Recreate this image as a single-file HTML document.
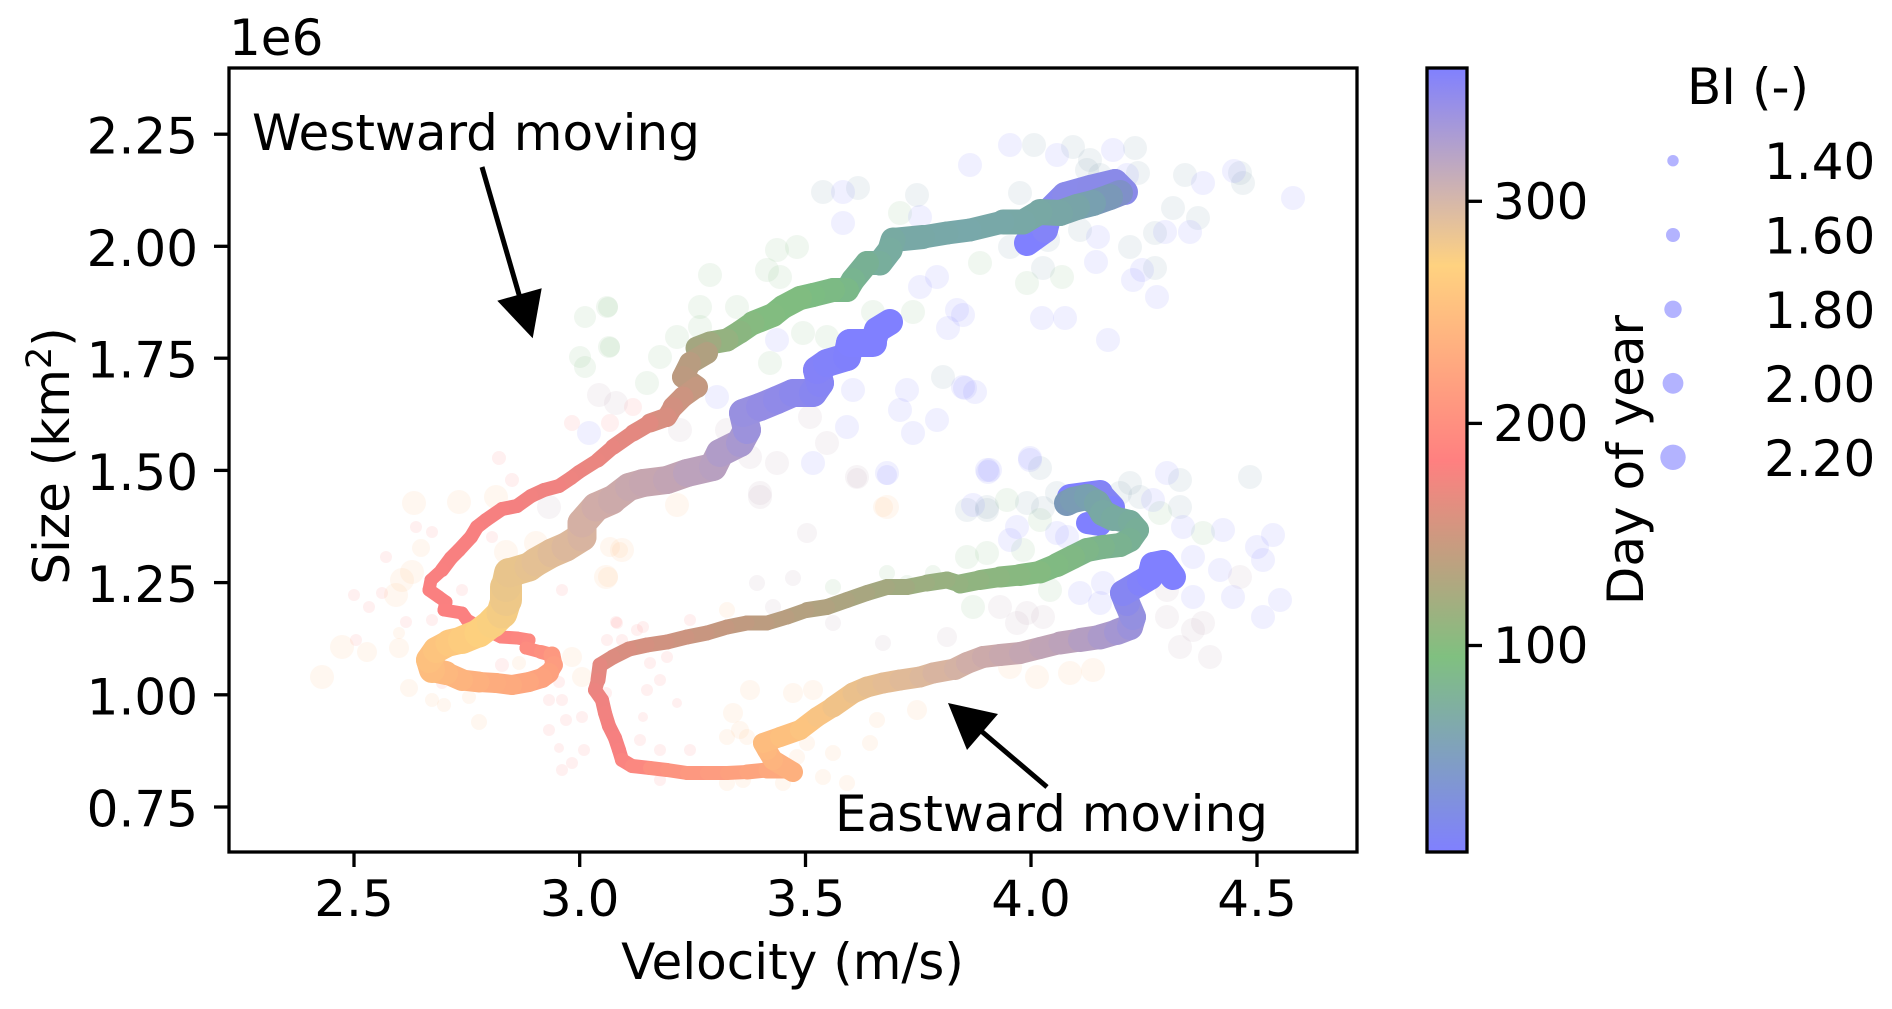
<!DOCTYPE html>
<html><head><meta charset="utf-8"><style>
html,body{margin:0;padding:0;background:#fff;}
svg{display:block;}
text{font-family:"DejaVu Sans","Liberation Sans",sans-serif;font-size:50px;fill:#000;}
line.s{stroke-linecap:round;}
.b{fill:#8080ff;fill-opacity:.12}
.t{fill:#78a0b0;fill-opacity:.12}
.g{fill:#80c080;fill-opacity:.12}
.p{fill:#ff8080;fill-opacity:.12}
.c{fill:#ffc080;fill-opacity:.12}
.m{fill:#c0a8b8;fill-opacity:.13}
</style></head><body>
<svg width="1892" height="1009" viewBox="0 0 1892 1009" xmlns="http://www.w3.org/2000/svg">
<defs>
<linearGradient id="cb" x1="0" y1="1" x2="0" y2="0">
<stop offset="0" stop-color="#8080ff"/>
<stop offset="0.249" stop-color="#80c080"/>
<stop offset="0.499" stop-color="#ff8080"/>
<stop offset="0.748" stop-color="#ffd280"/>
<stop offset="1" stop-color="#8080ff"/>
</linearGradient>
<clipPath id="ax"><rect x="229" y="68" width="1128" height="784"/></clipPath>
</defs>
<rect width="1892" height="1009" fill="#fff"/>

<g clip-path="url(#ax)">
<g>
<circle class="b" cx="1010" cy="145" r="12"/><circle class="t" cx="1034" cy="145" r="12"/><circle class="b" cx="1057" cy="155" r="12"/><circle class="t" cx="1073" cy="147" r="12"/><circle class="t" cx="1090" cy="160" r="12"/><circle class="b" cx="1113" cy="150" r="12"/><circle class="t" cx="1135" cy="148" r="12"/><circle class="b" cx="1127" cy="175" r="12"/><circle class="t" cx="1100" cy="175" r="12"/><circle class="t" cx="1087" cy="170" r="12"/><circle class="t" cx="1078" cy="195" r="12"/><circle class="t" cx="1138" cy="173" r="12"/><circle class="t" cx="1185" cy="175" r="12"/><circle class="b" cx="1203" cy="183" r="12"/><circle class="t" cx="1240" cy="173" r="12"/><circle class="t" cx="1243" cy="183" r="12"/><circle class="b" cx="1293" cy="198" r="12"/><circle class="t" cx="1173" cy="208" r="12"/><circle class="b" cx="1165" cy="232" r="12"/><circle class="t" cx="1155" cy="233" r="12"/><circle class="t" cx="1130" cy="247" r="12"/><circle class="b" cx="1098" cy="237" r="12"/><circle class="t" cx="1080" cy="230" r="12"/><circle class="t" cx="1048" cy="240" r="12"/><circle class="t" cx="1010" cy="247" r="12"/><circle class="g" cx="980" cy="263" r="12"/><circle class="t" cx="1043" cy="268" r="12"/><circle class="g" cx="1062" cy="277" r="12"/><circle class="b" cx="1096" cy="262" r="12"/><circle class="b" cx="1133" cy="280" r="12"/><circle class="b" cx="1142" cy="270" r="12"/><circle class="t" cx="1155" cy="268" r="12"/><circle class="b" cx="1157" cy="297" r="12"/><circle class="g" cx="1027" cy="283" r="12"/><circle class="b" cx="1065" cy="318" r="12"/><circle class="b" cx="1108" cy="340" r="12"/><circle class="b" cx="963" cy="315" r="12"/><circle class="b" cx="975" cy="392" r="12"/><circle class="t" cx="1198" cy="218" r="12"/><circle class="b" cx="1190" cy="232" r="12"/><circle class="t" cx="1020" cy="193" r="12"/><circle class="b" cx="970" cy="165" r="12"/><circle class="b" cx="1042" cy="318" r="12"/><circle class="b" cx="965" cy="388" r="12"/><circle class="b" cx="1234" cy="171" r="12"/>
<circle class="t" cx="823" cy="192" r="12"/><circle class="b" cx="843" cy="192" r="12"/><circle class="t" cx="858" cy="188" r="12"/><circle class="t" cx="917" cy="195" r="12"/><circle class="g" cx="900" cy="213" r="12"/><circle class="b" cx="920" cy="217" r="12"/><circle class="b" cx="843" cy="223" r="12"/><circle class="g" cx="797" cy="247" r="12"/><circle class="g" cx="777" cy="250" r="12"/><circle class="g" cx="767" cy="270" r="12"/><circle class="g" cx="780" cy="277" r="12"/><circle class="g" cx="710" cy="275" r="12"/><circle class="g" cx="700" cy="307" r="12"/><circle class="g" cx="608" cy="307" r="10"/><circle class="g" cx="610" cy="347" r="10"/><circle class="g" cx="677" cy="337" r="12"/><circle class="g" cx="700" cy="327" r="12"/><circle class="g" cx="737" cy="307" r="12"/><circle class="b" cx="937" cy="277" r="12"/><circle class="b" cx="920" cy="287" r="12"/><circle class="g" cx="913" cy="312" r="12"/><circle class="b" cx="957" cy="310" r="12"/><circle class="b" cx="948" cy="328" r="12"/><circle class="g" cx="873" cy="312" r="12"/><circle class="g" cx="803" cy="333" r="12"/><circle class="g" cx="827" cy="337" r="12"/><circle class="b" cx="777" cy="340" r="12"/><circle class="g" cx="770" cy="363" r="12"/><circle class="g" cx="660" cy="357" r="12"/><circle class="g" cx="647" cy="383" r="12"/><circle class="t" cx="943" cy="377" r="12"/><circle class="b" cx="963" cy="387" r="12"/><circle class="b" cx="907" cy="390" r="12"/><circle class="b" cx="900" cy="410" r="12"/><circle class="b" cx="937" cy="420" r="12"/><circle class="b" cx="913" cy="433" r="12"/><circle class="b" cx="847" cy="427" r="12"/><circle class="m" cx="810" cy="417" r="12"/><circle class="m" cx="827" cy="443" r="12"/><circle class="b" cx="853" cy="390" r="12"/><circle class="b" cx="887" cy="473" r="12"/><circle class="m" cx="857" cy="477" r="12"/><circle class="b" cx="987" cy="470" r="12"/><circle class="t" cx="967" cy="510" r="12"/><circle class="t" cx="987" cy="510" r="12"/><circle class="c" cx="887" cy="507" r="12"/><circle class="m" cx="760" cy="493" r="12"/><circle class="m" cx="777" cy="463" r="12"/><circle class="m" cx="750" cy="457" r="12"/><circle class="b" cx="813" cy="463" r="12"/><circle class="m" cx="727" cy="430" r="12"/><circle class="b" cx="717" cy="397" r="12"/><circle class="m" cx="680" cy="430" r="12"/><circle class="p" cx="633" cy="407" r="9"/><circle class="p" cx="610" cy="423" r="9"/><circle class="g" cx="585" cy="317" r="11"/><circle class="g" cx="607" cy="307" r="11"/><circle class="g" cx="609" cy="347" r="11"/><circle class="g" cx="580" cy="357" r="11"/><circle class="g" cx="585" cy="367" r="11"/>
<circle class="m" cx="599" cy="395" r="12"/><circle class="m" cx="616" cy="403" r="12"/><circle class="p" cx="572" cy="423" r="8"/><circle class="b" cx="589" cy="433" r="12"/><circle class="p" cx="499" cy="458" r="7"/><circle class="p" cx="512" cy="480" r="7"/><circle class="c" cx="496" cy="497" r="12"/><circle class="c" cx="459" cy="502" r="12"/><circle class="c" cx="414" cy="503" r="12"/><circle class="m" cx="549" cy="507" r="12"/><circle class="p" cx="416" cy="527" r="6"/><circle class="p" cx="432" cy="532" r="6"/><circle class="p" cx="492" cy="537" r="6"/><circle class="c" cx="506" cy="552" r="12"/><circle class="c" cx="536" cy="543" r="12"/><circle class="c" cx="622" cy="550" r="12"/><circle class="p" cx="386" cy="557" r="6"/><circle class="c" cx="421" cy="548" r="9"/><circle class="c" cx="606" cy="577" r="12"/><circle class="c" cx="412" cy="572" r="12"/><circle class="c" cx="402" cy="580" r="12"/><circle class="p" cx="382" cy="593" r="6"/><circle class="p" cx="354" cy="595" r="6"/><circle class="p" cx="369" cy="607" r="6"/><circle class="c" cx="396" cy="595" r="12"/><circle class="p" cx="462" cy="590" r="6"/><circle class="p" cx="562" cy="590" r="6"/><circle class="p" cx="432" cy="620" r="6"/><circle class="p" cx="406" cy="622" r="6"/><circle class="c" cx="399" cy="633" r="6"/><circle class="c" cx="342" cy="647" r="12"/><circle class="c" cx="367" cy="652" r="10"/><circle class="c" cx="399" cy="648" r="10"/><circle class="p" cx="356" cy="640" r="6"/><circle class="c" cx="322" cy="677" r="12"/><circle class="c" cx="409" cy="688" r="9"/><circle class="p" cx="442" cy="683" r="6"/><circle class="c" cx="432" cy="700" r="7"/><circle class="c" cx="444" cy="705" r="7"/><circle class="c" cx="469" cy="697" r="7"/><circle class="c" cx="479" cy="722" r="8"/><circle class="p" cx="502" cy="665" r="7"/><circle class="c" cx="519" cy="663" r="7"/><circle class="c" cx="572" cy="657" r="10"/><circle class="c" cx="582" cy="677" r="10"/><circle class="p" cx="559" cy="682" r="6"/><circle class="p" cx="562" cy="700" r="6"/><circle class="p" cx="549" cy="700" r="6"/><circle class="p" cx="566" cy="720" r="6"/><circle class="p" cx="582" cy="717" r="6"/><circle class="p" cx="549" cy="730" r="6"/><circle class="p" cx="562" cy="770" r="6"/><circle class="p" cx="572" cy="763" r="6"/><circle class="p" cx="584" cy="750" r="6"/><circle class="p" cx="559" cy="748" r="5"/><circle class="p" cx="606" cy="693" r="6"/><circle class="p" cx="616" cy="622" r="6"/><circle class="p" cx="622" cy="640" r="6"/>
<circle class="b" cx="887" cy="475" r="10"/><circle class="m" cx="857" cy="478" r="10"/><circle class="c" cx="883" cy="507" r="10"/><circle class="m" cx="760" cy="497" r="12"/><circle class="c" cx="677" cy="505" r="12"/><circle class="c" cx="607" cy="503" r="10"/><circle class="c" cx="610" cy="547" r="10"/><circle class="c" cx="620" cy="550" r="8"/><circle class="m" cx="807" cy="533" r="10"/><circle class="c" cx="608" cy="577" r="10"/><circle class="m" cx="757" cy="583" r="8"/><circle class="m" cx="793" cy="578" r="8"/><circle class="g" cx="833" cy="587" r="8"/><circle class="g" cx="887" cy="573" r="8"/><circle class="g" cx="907" cy="583" r="8"/><circle class="g" cx="933" cy="573" r="8"/><circle class="m" cx="947" cy="637" r="10"/><circle class="m" cx="883" cy="643" r="8"/><circle class="m" cx="833" cy="623" r="8"/><circle class="m" cx="773" cy="607" r="8"/><circle class="c" cx="727" cy="610" r="8"/><circle class="p" cx="690" cy="620" r="6"/><circle class="p" cx="643" cy="627" r="6"/><circle class="p" cx="617" cy="623" r="6"/><circle class="p" cx="607" cy="640" r="6"/><circle class="p" cx="637" cy="630" r="6"/><circle class="p" cx="650" cy="663" r="6"/><circle class="p" cx="667" cy="657" r="6"/><circle class="p" cx="660" cy="680" r="6"/><circle class="p" cx="647" cy="690" r="6"/><circle class="p" cx="677" cy="703" r="5"/><circle class="p" cx="643" cy="717" r="5"/><circle class="p" cx="640" cy="740" r="6"/><circle class="p" cx="660" cy="750" r="6"/><circle class="p" cx="690" cy="750" r="6"/><circle class="c" cx="750" cy="690" r="10"/><circle class="c" cx="793" cy="693" r="10"/><circle class="c" cx="813" cy="690" r="10"/><circle class="c" cx="733" cy="713" r="10"/><circle class="c" cx="740" cy="730" r="9"/><circle class="c" cx="727" cy="737" r="8"/><circle class="c" cx="747" cy="737" r="8"/><circle class="c" cx="807" cy="743" r="8"/><circle class="c" cx="833" cy="753" r="8"/><circle class="c" cx="870" cy="743" r="8"/><circle class="c" cx="917" cy="710" r="10"/><circle class="c" cx="877" cy="720" r="8"/><circle class="c" cx="727" cy="783" r="8"/><circle class="c" cx="743" cy="780" r="8"/><circle class="c" cx="783" cy="783" r="8"/><circle class="c" cx="823" cy="777" r="8"/><circle class="c" cx="847" cy="783" r="8"/><circle class="c" cx="797" cy="757" r="8"/><circle class="p" cx="660" cy="780" r="6"/>
<circle class="b" cx="990" cy="470" r="12"/><circle class="b" cx="1030" cy="460" r="12"/><circle class="t" cx="1040" cy="468" r="12"/><circle class="t" cx="1250" cy="477" r="12"/><circle class="b" cx="1167" cy="473" r="12"/><circle class="t" cx="1180" cy="480" r="12"/><circle class="t" cx="1130" cy="483" r="12"/><circle class="t" cx="1140" cy="497" r="12"/><circle class="t" cx="1120" cy="493" r="12"/><circle class="b" cx="1153" cy="500" r="12"/><circle class="g" cx="1160" cy="513" r="12"/><circle class="t" cx="1180" cy="507" r="12"/><circle class="b" cx="973" cy="505" r="12"/><circle class="t" cx="987" cy="507" r="12"/><circle class="g" cx="1007" cy="500" r="12"/><circle class="t" cx="1027" cy="503" r="12"/><circle class="t" cx="1043" cy="508" r="12"/><circle class="t" cx="1057" cy="493" r="12"/><circle class="b" cx="1017" cy="527" r="12"/><circle class="b" cx="1010" cy="540" r="12"/><circle class="g" cx="1040" cy="520" r="12"/><circle class="b" cx="1057" cy="533" r="12"/><circle class="b" cx="1067" cy="537" r="12"/><circle class="g" cx="987" cy="553" r="12"/><circle class="g" cx="967" cy="557" r="12"/><circle class="g" cx="1023" cy="550" r="12"/><circle class="b" cx="1183" cy="527" r="12"/><circle class="g" cx="1203" cy="533" r="12"/><circle class="b" cx="1223" cy="530" r="12"/><circle class="b" cx="1273" cy="535" r="12"/><circle class="b" cx="1257" cy="547" r="12"/><circle class="b" cx="1263" cy="560" r="12"/><circle class="b" cx="1193" cy="557" r="12"/><circle class="b" cx="1220" cy="570" r="12"/><circle class="m" cx="1240" cy="577" r="12"/><circle class="b" cx="1233" cy="597" r="12"/><circle class="b" cx="1280" cy="600" r="12"/><circle class="b" cx="1193" cy="597" r="12"/><circle class="m" cx="1167" cy="590" r="12"/><circle class="b" cx="1103" cy="583" r="12"/><circle class="b" cx="1100" cy="603" r="12"/><circle class="b" cx="1080" cy="593" r="12"/><circle class="g" cx="1050" cy="590" r="12"/><circle class="g" cx="973" cy="607" r="12"/><circle class="m" cx="1000" cy="607" r="12"/><circle class="m" cx="1027" cy="613" r="12"/><circle class="m" cx="1043" cy="617" r="12"/><circle class="m" cx="1017" cy="623" r="12"/><circle class="m" cx="1167" cy="617" r="12"/><circle class="m" cx="1193" cy="630" r="12"/><circle class="m" cx="1203" cy="623" r="12"/><circle class="m" cx="1180" cy="647" r="12"/><circle class="m" cx="1210" cy="657" r="12"/><circle class="b" cx="1263" cy="617" r="12"/><circle class="c" cx="1093" cy="670" r="12"/><circle class="c" cx="1037" cy="677" r="12"/><circle class="c" cx="1070" cy="673" r="12"/><circle class="c" cx="1010" cy="667" r="12"/><circle class="b" cx="1030" cy="458" r="12"/><circle class="b" cx="988" cy="472" r="12"/>
</g>

<g>
<line class="s" x1="1027" y1="243" x2="1045" y2="230" stroke="#8080ff" stroke-width="26"/>
<line class="s" x1="1045" y1="230" x2="1050" y2="210" stroke="#8484f8" stroke-width="26"/>
<line class="s" x1="1050" y1="210" x2="1065" y2="195" stroke="#8888f0" stroke-width="26"/>
<line class="s" x1="1065" y1="195" x2="1090" y2="188" stroke="#8a8aea" stroke-width="26"/>
<line class="s" x1="1090" y1="188" x2="1115" y2="182" stroke="#8a8ae8" stroke-width="26"/>
<line class="s" x1="1115" y1="182" x2="1125" y2="192" stroke="#8a8ae8" stroke-width="26"/>
</g>
<g>
<line class="s" x1="1120" y1="193" x2="1110" y2="197" stroke="#7f90c8" stroke-width="26"/>
<line class="s" x1="1110" y1="197" x2="1093" y2="203" stroke="#7a98b8" stroke-width="26"/>
<line class="s" x1="1093" y1="203" x2="1077" y2="207" stroke="#78a0b0" stroke-width="26"/>
<line class="s" x1="1077" y1="207" x2="1060" y2="213" stroke="#78a4a8" stroke-width="26"/>
<line class="s" x1="1060" y1="213" x2="1040" y2="212" stroke="#78a6a6" stroke-width="26"/>
<line class="s" x1="1040" y1="212" x2="1023" y2="222" stroke="#78a8a4" stroke-width="25"/>
<line class="s" x1="1023" y1="222" x2="1003" y2="222" stroke="#78a8a6" stroke-width="25"/>
<line class="s" x1="1003" y1="222" x2="970" y2="230" stroke="#78a8a8" stroke-width="23"/>
<line class="s" x1="970" y1="230" x2="947" y2="233" stroke="#78a8aa" stroke-width="23"/>
<line class="s" x1="947" y1="233" x2="923" y2="237" stroke="#78a8a8" stroke-width="23"/>
<line class="s" x1="923" y1="237" x2="893" y2="240" stroke="#78a8a6" stroke-width="24"/>
<line class="s" x1="893" y1="240" x2="890" y2="250" stroke="#78aaa2" stroke-width="25"/>
<line class="s" x1="890" y1="250" x2="880" y2="263" stroke="#78aca0" stroke-width="25"/>
<line class="s" x1="880" y1="263" x2="867" y2="263" stroke="#78ae9c" stroke-width="24"/>
<line class="s" x1="867" y1="263" x2="853" y2="280" stroke="#78b094" stroke-width="24"/>
<line class="s" x1="853" y1="280" x2="847" y2="290" stroke="#78b490" stroke-width="24"/>
<line class="s" x1="847" y1="290" x2="833" y2="290" stroke="#7ab888" stroke-width="24"/>
<line class="s" x1="833" y1="290" x2="813" y2="295" stroke="#7cba84" stroke-width="24"/>
<line class="s" x1="813" y1="295" x2="800" y2="298" stroke="#7cbc82" stroke-width="24"/>
<line class="s" x1="800" y1="298" x2="783" y2="307" stroke="#80bc80" stroke-width="24"/>
<line class="s" x1="783" y1="307" x2="773" y2="315" stroke="#80bc80" stroke-width="24"/>
<line class="s" x1="773" y1="315" x2="753" y2="323" stroke="#82bc80" stroke-width="24"/>
<line class="s" x1="753" y1="323" x2="740" y2="332" stroke="#86ba80" stroke-width="23"/>
<line class="s" x1="740" y1="332" x2="727" y2="340" stroke="#8ab680" stroke-width="23"/>
<line class="s" x1="727" y1="340" x2="710" y2="343" stroke="#94b280" stroke-width="23"/>
<line class="s" x1="710" y1="343" x2="697" y2="348" stroke="#a0aa80" stroke-width="23"/>
<line class="s" x1="697" y1="348" x2="707" y2="353" stroke="#a4a680" stroke-width="22"/>
<line class="s" x1="707" y1="353" x2="690" y2="363" stroke="#b0a080" stroke-width="22"/>
<line class="s" x1="690" y1="363" x2="683" y2="377" stroke="#b89c80" stroke-width="22"/>
<line class="s" x1="683" y1="377" x2="697" y2="387" stroke="#bc9a80" stroke-width="22"/>
<line class="s" x1="697" y1="387" x2="683" y2="397" stroke="#c49880" stroke-width="21"/>
<line class="s" x1="683" y1="397" x2="673" y2="407" stroke="#cc9480" stroke-width="21"/>
<line class="s" x1="673" y1="407" x2="667" y2="417" stroke="#d29080" stroke-width="20"/>
<line class="s" x1="667" y1="417" x2="650" y2="423" stroke="#d88e80" stroke-width="19"/>
<line class="s" x1="650" y1="423" x2="633" y2="433" stroke="#e08a80" stroke-width="17"/>
<line class="s" x1="633" y1="433" x2="613" y2="447" stroke="#e48880" stroke-width="16"/>
<line class="s" x1="613" y1="447" x2="598" y2="460" stroke="#e88680" stroke-width="15"/>
<line class="s" x1="598" y1="460" x2="579" y2="472" stroke="#ea8680" stroke-width="14"/>
<line class="s" x1="579" y1="472" x2="571" y2="478" stroke="#ec8480" stroke-width="14"/>
<line class="s" x1="571" y1="478" x2="559" y2="486" stroke="#ee8480" stroke-width="14"/>
<line class="s" x1="559" y1="486" x2="544" y2="490" stroke="#f08280" stroke-width="14"/>
<line class="s" x1="544" y1="490" x2="531" y2="496" stroke="#f08280" stroke-width="14"/>
<line class="s" x1="531" y1="496" x2="517" y2="506" stroke="#f28280" stroke-width="14"/>
<line class="s" x1="517" y1="506" x2="502" y2="509" stroke="#f48080" stroke-width="14"/>
<line class="s" x1="502" y1="509" x2="486" y2="520" stroke="#f68080" stroke-width="14"/>
<line class="s" x1="486" y1="520" x2="477" y2="527" stroke="#f68080" stroke-width="14"/>
<line class="s" x1="477" y1="527" x2="471" y2="537" stroke="#f88080" stroke-width="14"/>
<line class="s" x1="471" y1="537" x2="459" y2="550" stroke="#f88080" stroke-width="14"/>
<line class="s" x1="459" y1="550" x2="451" y2="558" stroke="#f88080" stroke-width="14"/>
<line class="s" x1="451" y1="558" x2="442" y2="570" stroke="#f88080" stroke-width="14"/>
<line class="s" x1="442" y1="570" x2="431" y2="580" stroke="#f98080" stroke-width="13"/>
<line class="s" x1="431" y1="580" x2="429" y2="590" stroke="#f98080" stroke-width="13"/>
<line class="s" x1="429" y1="590" x2="439" y2="597" stroke="#fa8080" stroke-width="13"/>
<line class="s" x1="439" y1="597" x2="446" y2="602" stroke="#fa8080" stroke-width="13"/>
<line class="s" x1="446" y1="602" x2="444" y2="610" stroke="#fa8080" stroke-width="13"/>
<line class="s" x1="444" y1="610" x2="462" y2="613" stroke="#fb8080" stroke-width="13"/>
<line class="s" x1="462" y1="613" x2="467" y2="620" stroke="#fb8080" stroke-width="13"/>
<line class="s" x1="467" y1="620" x2="476" y2="625" stroke="#fb8080" stroke-width="13"/>
<line class="s" x1="476" y1="625" x2="501" y2="637" stroke="#fc8480" stroke-width="13"/>
<line class="s" x1="501" y1="637" x2="517" y2="638" stroke="#fc8480" stroke-width="13"/>
<line class="s" x1="517" y1="638" x2="529" y2="640" stroke="#fc8680" stroke-width="13"/>
<line class="s" x1="529" y1="640" x2="526" y2="648" stroke="#fc8880" stroke-width="13"/>
<line class="s" x1="526" y1="648" x2="541" y2="652" stroke="#fd8c80" stroke-width="13"/>
<line class="s" x1="541" y1="652" x2="552" y2="655" stroke="#fd9080" stroke-width="14"/>
</g>
<g>
<line class="s" x1="552" y1="655" x2="554" y2="665" stroke="#fd9880" stroke-width="17"/>
<line class="s" x1="554" y1="665" x2="549" y2="673" stroke="#fd9c80" stroke-width="18"/>
<line class="s" x1="549" y1="673" x2="542" y2="678" stroke="#fda07e" stroke-width="20"/>
<line class="s" x1="542" y1="678" x2="529" y2="682" stroke="#fda27e" stroke-width="20"/>
<line class="s" x1="529" y1="682" x2="512" y2="685" stroke="#fda67e" stroke-width="20"/>
<line class="s" x1="512" y1="685" x2="496" y2="683" stroke="#fdaa7e" stroke-width="20"/>
<line class="s" x1="496" y1="683" x2="479" y2="682" stroke="#fdac7e" stroke-width="20"/>
<line class="s" x1="479" y1="682" x2="462" y2="680" stroke="#fdb07e" stroke-width="21"/>
<line class="s" x1="462" y1="680" x2="446" y2="673" stroke="#fdb47e" stroke-width="22"/>
<line class="s" x1="446" y1="673" x2="432" y2="670" stroke="#fdb87e" stroke-width="24"/>
<line class="s" x1="432" y1="670" x2="429" y2="660" stroke="#fdbc7e" stroke-width="26"/>
<line class="s" x1="429" y1="660" x2="436" y2="650" stroke="#fdc07e" stroke-width="26"/>
<line class="s" x1="436" y1="650" x2="449" y2="643" stroke="#fdc47e" stroke-width="26"/>
<line class="s" x1="449" y1="643" x2="462" y2="640" stroke="#fdc87e" stroke-width="27"/>
<line class="s" x1="462" y1="640" x2="479" y2="633" stroke="#fdcc7e" stroke-width="28"/>
<line class="s" x1="479" y1="633" x2="492" y2="623" stroke="#fdd07e" stroke-width="29"/>
<line class="s" x1="492" y1="623" x2="502" y2="613" stroke="#fad080" stroke-width="30"/>
<line class="s" x1="502" y1="613" x2="506" y2="600" stroke="#f4cc84" stroke-width="31"/>
<line class="s" x1="506" y1="600" x2="506" y2="587" stroke="#eec888" stroke-width="32"/>
<line class="s" x1="506" y1="587" x2="509" y2="573" stroke="#eac68a" stroke-width="30"/>
<line class="s" x1="509" y1="573" x2="529" y2="567" stroke="#e8c48c" stroke-width="29"/>
<line class="s" x1="529" y1="567" x2="536" y2="562" stroke="#e6c290" stroke-width="29"/>
<line class="s" x1="536" y1="562" x2="552" y2="553" stroke="#e4c094" stroke-width="29"/>
<line class="s" x1="552" y1="553" x2="566" y2="547" stroke="#e0bc98" stroke-width="29"/>
<line class="s" x1="566" y1="547" x2="582" y2="537" stroke="#dcb89c" stroke-width="29"/>
<line class="s" x1="582" y1="537" x2="582" y2="523" stroke="#d8b4a0" stroke-width="29"/>
<line class="s" x1="582" y1="523" x2="596" y2="507" stroke="#d4b0a4" stroke-width="29"/>
<line class="s" x1="596" y1="507" x2="612" y2="500" stroke="#d0aca8" stroke-width="29"/>
<line class="s" x1="612" y1="500" x2="629" y2="487" stroke="#ccaaaa" stroke-width="28"/>
<line class="s" x1="629" y1="487" x2="643" y2="483" stroke="#c8a8ae" stroke-width="28"/>
<line class="s" x1="643" y1="483" x2="667" y2="480" stroke="#c6a6b0" stroke-width="28"/>
<line class="s" x1="667" y1="480" x2="687" y2="473" stroke="#c2a4b4" stroke-width="28"/>
<line class="s" x1="687" y1="473" x2="713" y2="467" stroke="#bca2bc" stroke-width="28"/>
<line class="s" x1="713" y1="467" x2="720" y2="453" stroke="#b8a0c0" stroke-width="28"/>
<line class="s" x1="720" y1="453" x2="740" y2="443" stroke="#b09cc8" stroke-width="28"/>
<line class="s" x1="740" y1="443" x2="747" y2="430" stroke="#a898d0" stroke-width="28"/>
<line class="s" x1="747" y1="430" x2="743" y2="413" stroke="#9c92dc" stroke-width="28"/>
<line class="s" x1="743" y1="413" x2="760" y2="407" stroke="#9890e0" stroke-width="28"/>
<line class="s" x1="760" y1="407" x2="777" y2="400" stroke="#948ce4" stroke-width="28"/>
<line class="s" x1="777" y1="400" x2="793" y2="393" stroke="#908ae8" stroke-width="28"/>
<line class="s" x1="793" y1="393" x2="813" y2="393" stroke="#8c88ec" stroke-width="28"/>
<line class="s" x1="813" y1="393" x2="820" y2="383" stroke="#8886f0" stroke-width="28"/>
<line class="s" x1="820" y1="383" x2="817" y2="370" stroke="#8684f4" stroke-width="28"/>
<line class="s" x1="817" y1="370" x2="827" y2="363" stroke="#8482f8" stroke-width="28"/>
<line class="s" x1="827" y1="363" x2="847" y2="357" stroke="#8282fa" stroke-width="28"/>
<line class="s" x1="847" y1="357" x2="850" y2="343" stroke="#8080fc" stroke-width="28"/>
<line class="s" x1="850" y1="343" x2="873" y2="343" stroke="#8080ff" stroke-width="28"/>
<line class="s" x1="873" y1="343" x2="877" y2="330" stroke="#8080ff" stroke-width="26"/>
<line class="s" x1="877" y1="330" x2="890" y2="322" stroke="#8080ff" stroke-width="26"/>
</g>

<g>
<line class="s" x1="1070" y1="497" x2="1100" y2="493" stroke="#8080ff" stroke-width="26"/>
<line class="s" x1="1100" y1="493" x2="1113" y2="507" stroke="#8484f4" stroke-width="24"/>
<line class="s" x1="1113" y1="507" x2="1100" y2="525" stroke="#8080ff" stroke-width="22"/>
<line class="s" x1="1100" y1="525" x2="1087" y2="523" stroke="#8080ff" stroke-width="22"/>
</g>
<g>
<line class="s" x1="1067" y1="503" x2="1073" y2="500" stroke="#7a98b8" stroke-width="26"/>
<line class="s" x1="1073" y1="500" x2="1087" y2="497" stroke="#7a9cb4" stroke-width="26"/>
<line class="s" x1="1087" y1="497" x2="1097" y2="503" stroke="#78a0b0" stroke-width="26"/>
<line class="s" x1="1097" y1="503" x2="1103" y2="513" stroke="#78a4a8" stroke-width="26"/>
<line class="s" x1="1103" y1="513" x2="1113" y2="518" stroke="#78a8a4" stroke-width="26"/>
<line class="s" x1="1113" y1="518" x2="1130" y2="522" stroke="#78aaa0" stroke-width="24"/>
<line class="s" x1="1130" y1="522" x2="1137" y2="530" stroke="#78ac9c" stroke-width="24"/>
<line class="s" x1="1137" y1="530" x2="1130" y2="540" stroke="#78ae98" stroke-width="24"/>
<line class="s" x1="1130" y1="540" x2="1120" y2="545" stroke="#78b094" stroke-width="24"/>
<line class="s" x1="1120" y1="545" x2="1103" y2="547" stroke="#7ab290" stroke-width="24"/>
<line class="s" x1="1103" y1="547" x2="1087" y2="550" stroke="#7cb48c" stroke-width="24"/>
<line class="s" x1="1087" y1="550" x2="1073" y2="557" stroke="#7eb688" stroke-width="24"/>
<line class="s" x1="1073" y1="557" x2="1057" y2="565" stroke="#80b884" stroke-width="24"/>
<line class="s" x1="1057" y1="565" x2="1040" y2="572" stroke="#80ba82" stroke-width="23"/>
<line class="s" x1="1040" y1="572" x2="1020" y2="575" stroke="#84ba80" stroke-width="22"/>
<line class="s" x1="1020" y1="575" x2="1000" y2="577" stroke="#88b880" stroke-width="21"/>
<line class="s" x1="1000" y1="577" x2="980" y2="580" stroke="#8cb680" stroke-width="20"/>
<line class="s" x1="980" y1="580" x2="960" y2="584" stroke="#90b480" stroke-width="19"/>
<line class="s" x1="960" y1="584" x2="947" y2="580" stroke="#94b280" stroke-width="17"/>
<line class="s" x1="947" y1="580" x2="927" y2="583" stroke="#98b080" stroke-width="17"/>
<line class="s" x1="927" y1="583" x2="907" y2="587" stroke="#9cae80" stroke-width="16"/>
<line class="s" x1="907" y1="587" x2="887" y2="587" stroke="#a0aa80" stroke-width="16"/>
<line class="s" x1="887" y1="587" x2="867" y2="593" stroke="#a4a880" stroke-width="16"/>
<line class="s" x1="867" y1="593" x2="847" y2="600" stroke="#a8a680" stroke-width="16"/>
<line class="s" x1="847" y1="600" x2="827" y2="607" stroke="#aca480" stroke-width="16"/>
<line class="s" x1="827" y1="607" x2="807" y2="610" stroke="#b0a280" stroke-width="16"/>
<line class="s" x1="807" y1="610" x2="787" y2="617" stroke="#b4a080" stroke-width="15"/>
<line class="s" x1="787" y1="617" x2="767" y2="623" stroke="#b89e80" stroke-width="15"/>
<line class="s" x1="767" y1="623" x2="747" y2="623" stroke="#bc9c80" stroke-width="15"/>
<line class="s" x1="747" y1="623" x2="727" y2="627" stroke="#c09a80" stroke-width="15"/>
<line class="s" x1="727" y1="627" x2="707" y2="633" stroke="#c49880" stroke-width="15"/>
<line class="s" x1="707" y1="633" x2="687" y2="637" stroke="#c89680" stroke-width="15"/>
<line class="s" x1="687" y1="637" x2="667" y2="642" stroke="#cc9480" stroke-width="15"/>
<line class="s" x1="667" y1="642" x2="647" y2="645" stroke="#d09280" stroke-width="15"/>
<line class="s" x1="647" y1="645" x2="629" y2="649" stroke="#d49080" stroke-width="15"/>
<line class="s" x1="629" y1="649" x2="613" y2="657" stroke="#d88e80" stroke-width="15"/>
<line class="s" x1="613" y1="657" x2="600" y2="665" stroke="#dc8c80" stroke-width="15"/>
<line class="s" x1="600" y1="665" x2="598" y2="680" stroke="#e48880" stroke-width="15"/>
<line class="s" x1="598" y1="680" x2="595" y2="690" stroke="#e88680" stroke-width="14"/>
<line class="s" x1="595" y1="690" x2="602" y2="700" stroke="#ec8480" stroke-width="14"/>
<line class="s" x1="602" y1="700" x2="605" y2="713" stroke="#f08280" stroke-width="14"/>
<line class="s" x1="605" y1="713" x2="609" y2="726" stroke="#f28280" stroke-width="14"/>
<line class="s" x1="609" y1="726" x2="615" y2="738" stroke="#f48080" stroke-width="14"/>
<line class="s" x1="615" y1="738" x2="619" y2="750" stroke="#f68080" stroke-width="14"/>
<line class="s" x1="619" y1="750" x2="622" y2="760" stroke="#f88080" stroke-width="14"/>
<line class="s" x1="622" y1="760" x2="632" y2="766" stroke="#fa8480" stroke-width="14"/>
<line class="s" x1="632" y1="766" x2="650" y2="768" stroke="#fb8880" stroke-width="14"/>
<line class="s" x1="650" y1="768" x2="667" y2="770" stroke="#fc9080" stroke-width="14"/>
<line class="s" x1="667" y1="770" x2="687" y2="773" stroke="#fc9480" stroke-width="14"/>
<line class="s" x1="687" y1="773" x2="707" y2="773" stroke="#fd9880" stroke-width="14"/>
<line class="s" x1="707" y1="773" x2="727" y2="773" stroke="#fd9c80" stroke-width="14"/>
<line class="s" x1="727" y1="773" x2="747" y2="772" stroke="#fda07e" stroke-width="14"/>
<line class="s" x1="747" y1="772" x2="767" y2="770" stroke="#fda47e" stroke-width="15"/>
<line class="s" x1="767" y1="770" x2="787" y2="770" stroke="#fda87e" stroke-width="17"/>
<line class="s" x1="787" y1="770" x2="793" y2="772" stroke="#fdac7e" stroke-width="18"/>
<line class="s" x1="793" y1="772" x2="773" y2="760" stroke="#fdb07e" stroke-width="20"/>
<line class="s" x1="773" y1="760" x2="767" y2="750" stroke="#fdb47e" stroke-width="20"/>
<line class="s" x1="767" y1="750" x2="763" y2="743" stroke="#fdb87e" stroke-width="20"/>
<line class="s" x1="763" y1="743" x2="780" y2="737" stroke="#fdbc7e" stroke-width="20"/>
<line class="s" x1="780" y1="737" x2="800" y2="730" stroke="#fdc07e" stroke-width="20"/>
<line class="s" x1="800" y1="730" x2="817" y2="717" stroke="#fcc480" stroke-width="20"/>
<line class="s" x1="817" y1="717" x2="833" y2="707" stroke="#f8c484" stroke-width="20"/>
<line class="s" x1="833" y1="707" x2="853" y2="693" stroke="#f0c288" stroke-width="21"/>
<line class="s" x1="853" y1="693" x2="867" y2="687" stroke="#eac08c" stroke-width="21"/>
<line class="s" x1="867" y1="687" x2="883" y2="683" stroke="#e6be90" stroke-width="21"/>
<line class="s" x1="883" y1="683" x2="900" y2="680" stroke="#e4bc94" stroke-width="21"/>
<line class="s" x1="900" y1="680" x2="920" y2="677" stroke="#e0ba98" stroke-width="21"/>
<line class="s" x1="920" y1="677" x2="933" y2="673" stroke="#dcb89c" stroke-width="21"/>
<line class="s" x1="933" y1="673" x2="955" y2="669" stroke="#d8b4a0" stroke-width="21"/>
<line class="s" x1="955" y1="669" x2="967" y2="663" stroke="#d4b2a4" stroke-width="22"/>
<line class="s" x1="967" y1="663" x2="983" y2="657" stroke="#d0aea8" stroke-width="22"/>
<line class="s" x1="983" y1="657" x2="1000" y2="655" stroke="#ccaaaa" stroke-width="22"/>
<line class="s" x1="1000" y1="655" x2="1020" y2="653" stroke="#c8a8ae" stroke-width="22"/>
<line class="s" x1="1020" y1="653" x2="1040" y2="648" stroke="#c4a6b2" stroke-width="22"/>
<line class="s" x1="1040" y1="648" x2="1060" y2="643" stroke="#c0a4b6" stroke-width="22"/>
<line class="s" x1="1060" y1="643" x2="1080" y2="640" stroke="#bca2ba" stroke-width="23"/>
<line class="s" x1="1080" y1="640" x2="1100" y2="637" stroke="#b49ec2" stroke-width="24"/>
<line class="s" x1="1100" y1="637" x2="1117" y2="632" stroke="#ac9aca" stroke-width="25"/>
<line class="s" x1="1117" y1="632" x2="1130" y2="627" stroke="#a496d2" stroke-width="26"/>
<line class="s" x1="1130" y1="627" x2="1133" y2="617" stroke="#9c92da" stroke-width="26"/>
<line class="s" x1="1133" y1="617" x2="1127" y2="603" stroke="#9490e0" stroke-width="26"/>
<line class="s" x1="1127" y1="603" x2="1123" y2="593" stroke="#8c8ae8" stroke-width="26"/>
<line class="s" x1="1123" y1="593" x2="1140" y2="583" stroke="#8686f2" stroke-width="26"/>
<line class="s" x1="1140" y1="583" x2="1150" y2="577" stroke="#8282fa" stroke-width="26"/>
<line class="s" x1="1150" y1="577" x2="1153" y2="565" stroke="#8080ff" stroke-width="26"/>
<line class="s" x1="1153" y1="565" x2="1163" y2="563" stroke="#8080ff" stroke-width="26"/>
<line class="s" x1="1163" y1="563" x2="1173" y2="577" stroke="#8080ff" stroke-width="26"/>
</g>
</g>

<!-- annotations -->
<text x="252" y="150">Westward moving</text>
<line x1="482" y1="167" x2="520" y2="298" stroke="#000" stroke-width="5"/>
<polygon points="532.7,338.3 497.3,300.7 541.7,288.3" fill="#000"/>
<text x="835" y="831">Eastward moving</text>
<line x1="1047" y1="787" x2="980" y2="730" stroke="#000" stroke-width="5"/>
<polygon points="948,703 998,714 967,750" fill="#000"/>

<!-- axes frame -->
<rect x="229" y="68" width="1128" height="784" fill="none" stroke="#000" stroke-width="3.3"/>
<g stroke="#000" stroke-width="3.3">
<line x1="214" y1="807" x2="229" y2="807"/>
<line x1="214" y1="694.8" x2="229" y2="694.8"/>
<line x1="214" y1="582.6" x2="229" y2="582.6"/>
<line x1="214" y1="470.4" x2="229" y2="470.4"/>
<line x1="214" y1="358.2" x2="229" y2="358.2"/>
<line x1="214" y1="246.3" x2="229" y2="246.3"/>
<line x1="214" y1="134.2" x2="229" y2="134.2"/>
<line x1="354" y1="852" x2="354" y2="867"/>
<line x1="579.7" y1="852" x2="579.7" y2="867"/>
<line x1="805.5" y1="852" x2="805.5" y2="867"/>
<line x1="1031" y1="852" x2="1031" y2="867"/>
<line x1="1257" y1="852" x2="1257" y2="867"/>
</g>
<g text-anchor="end">
<text x="198" y="826.5">0.75</text>
<text x="198" y="714.3">1.00</text>
<text x="198" y="602.1">1.25</text>
<text x="198" y="489.9">1.50</text>
<text x="198" y="377.7">1.75</text>
<text x="198" y="265.8">2.00</text>
<text x="198" y="153.7">2.25</text>
</g>
<g text-anchor="middle">
<text x="354" y="916">2.5</text>
<text x="579.7" y="916">3.0</text>
<text x="805.5" y="916">3.5</text>
<text x="1031" y="916">4.0</text>
<text x="1257" y="916">4.5</text>
<text x="792.5" y="979">Velocity (m/s)</text>
</g>
<text x="229" y="55">1e6</text>
<text transform="rotate(-90 69 456)" x="69" y="456" text-anchor="middle">Size (km<tspan font-size="35" dy="-18">2</tspan><tspan dy="18">)</tspan></text>

<!-- colorbar -->
<rect x="1427" y="68" width="40" height="784" fill="url(#cb)"/>
<rect x="1427" y="68" width="40" height="784" fill="none" stroke="#000" stroke-width="3.3"/>
<g stroke="#000" stroke-width="3.3">
<line x1="1467" y1="201.3" x2="1482" y2="201.3"/>
<line x1="1467" y1="423.4" x2="1482" y2="423.4"/>
<line x1="1467" y1="645.5" x2="1482" y2="645.5"/>
</g>
<text x="1493" y="219">300</text>
<text x="1493" y="441">200</text>
<text x="1493" y="663">100</text>
<text transform="rotate(-90 1643 460)" x="1643" y="460" text-anchor="middle">Day of year</text>

<!-- legend -->
<text x="1748" y="104" text-anchor="middle">BI (-)</text>
<g fill="#8080ff" fill-opacity="0.6">
<circle cx="1673" cy="160.7" r="5.7"/>
<circle cx="1673" cy="235" r="7"/>
<circle cx="1673" cy="309.3" r="8.7"/>
<circle cx="1673" cy="383.3" r="10.4"/>
<circle cx="1673" cy="457.3" r="12.7"/>
</g>
<text x="1764" y="179">1.40</text>
<text x="1764" y="253.5">1.60</text>
<text x="1764" y="328">1.80</text>
<text x="1764" y="402">2.00</text>
<text x="1764" y="476">2.20</text>
</svg>
</body></html>
